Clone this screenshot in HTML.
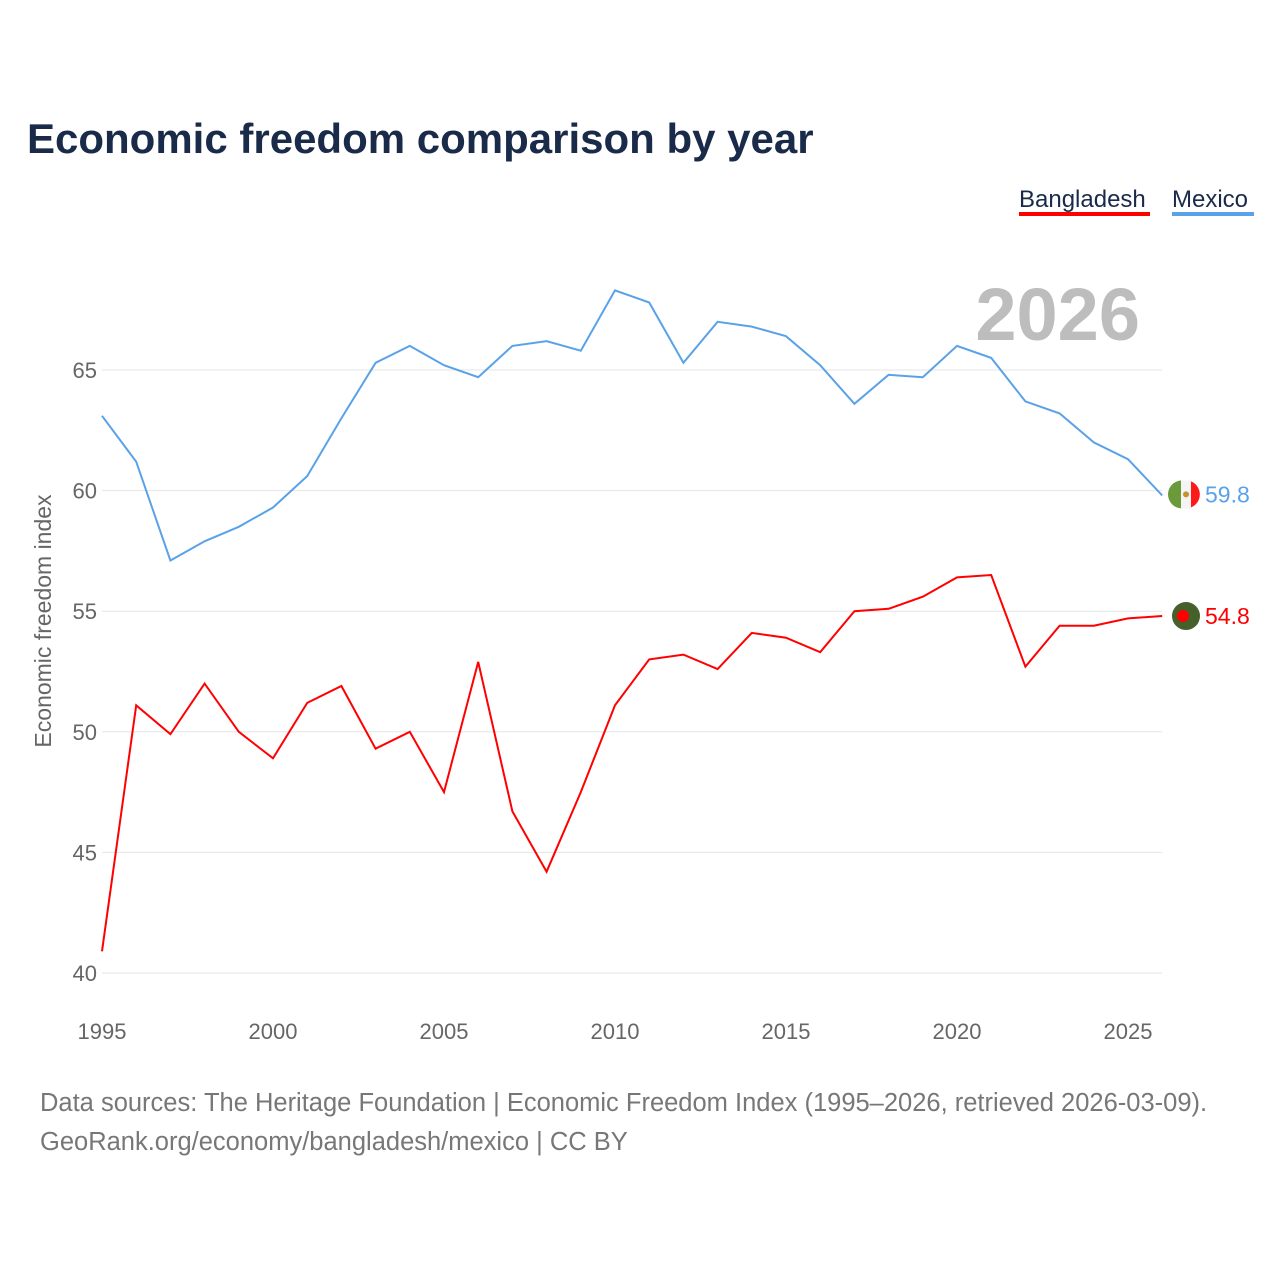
<!DOCTYPE html>
<html><head><meta charset="utf-8">
<style>
body{margin:0;background:#fff;}
svg{display:block;font-family:"Liberation Sans",sans-serif;}
</style></head>
<body>
<svg id="chart" width="1280" height="1280" viewBox="0 0 1280 1280">
<rect width="1280" height="1280" fill="#fff"/>
<text x="27" y="153" font-size="42" font-weight="bold" fill="#1a2b4a">Economic freedom comparison by year</text>
<g>
<g>
<text x="1019" y="207" font-size="24" fill="#1a2b4a">Bangladesh</text>
<rect x="1019" y="212" width="131" height="4" fill="#ff0000"/>
</g>
<g>
<text x="1172" y="207" font-size="24" fill="#1a2b4a">Mexico</text>
<rect x="1172" y="212" width="82" height="4" fill="#5aa2e8"/>
</g>
</g>
<text x="1140" y="340" font-size="74" font-weight="bold" fill="#bdbdbd" text-anchor="end">2026</text>
<g id="grid"></g>
<g id="yticks"></g>
<g id="xticks"></g>
<text transform="translate(51,621) rotate(-90)" font-size="23" fill="#666" text-anchor="middle">Economic freedom index</text>
<g id="lines"></g>
<g>
<text x="40" y="1111" font-size="25.5" fill="#777">Data sources: The Heritage Foundation | Economic Freedom Index (1995–2026, retrieved 2026-03-09).</text>
<text x="40" y="1150" font-size="25.5" fill="#777">GeoRank.org/economy/bangladesh/mexico | CC BY</text>
</g>
</svg>
<script>
const years = [1995,1996,1997,1998,1999,2000,2001,2002,2003,2004,2005,2006,2007,2008,2009,2010,2011,2012,2013,2014,2015,2016,2017,2018,2019,2020,2021,2022,2023,2024,2025,2026];
const mexico = [63.1,61.2,57.1,57.9,58.5,59.3,60.6,63.0,65.3,66.0,65.2,64.7,66.0,66.2,65.8,68.3,67.8,65.3,67.0,66.8,66.4,65.2,63.6,64.8,64.7,66.0,65.5,63.7,63.2,62.0,61.3,59.8];
const bangladesh = [40.9,51.1,49.9,52.0,50.0,48.9,51.2,51.9,49.3,50.0,47.5,52.9,46.7,44.2,47.5,51.1,53.0,53.2,52.6,54.1,53.9,53.3,55.0,55.1,55.6,56.4,56.5,52.7,54.4,54.4,54.7,54.8];
const yTicks = [40,45,50,55,60,65];
const xTicks = [1995,2000,2005,2010,2015,2020,2025];

const NS="http://www.w3.org/2000/svg";
const x = v => 102 + (v-1995)*(1128-102)/30;
const y = v => 973 - (v-40)*(973-370)/25;
function mk(tag, attrs, parent){const e=document.createElementNS(NS,tag);for(const k in attrs)e.setAttribute(k,attrs[k]);parent.appendChild(e);return e;}
const grid=document.getElementById('grid'), yt=document.getElementById('yticks'), xt=document.getElementById('xticks'), lines=document.getElementById('lines');
yTicks.forEach(t=>{
  const l=mk('line',{x1:102,x2:1162,y1:y(t),y2:y(t),stroke:'#e6e6e6','stroke-width':1},grid);
  
  
  const tx=mk('text',{x:97,y:y(t)+8,'font-size':22,fill:'#666','text-anchor':'end'},yt);
  tx.textContent=t;
  
  
});
xTicks.forEach(t=>{
  const tx=mk('text',{x:x(t),y:1039,'font-size':22,fill:'#666','text-anchor':'middle'},xt);
  tx.textContent=t;
  
  
});
function series(vals,color,name){
  const d=vals.map((v,i)=>(i?'L':'M')+x(years[i]).toFixed(1)+','+y(v).toFixed(1)).join(' ');
  const p=mk('path',{d:d,fill:'none',stroke:color,'stroke-width':2},lines);
  
  
  const lv=vals[vals.length-1], cy=y(lv)-(name==='mexico'?1:0);
  const g=mk('g',{},lines);
  
  
  if(name==='mexico'){
    mk('circle',{cx:1186,cy:cy,r:14,fill:'#f4f4f4'},g);
    mk('path',{d:`M1182,${cy-14} A14,14 0 0 0 1182,${cy+14}Z`,fill:'#6a9a3a'},g);
    mk('rect',{x:1181,y:cy-14,width:10,height:28,fill:'#f4f4f4'},g);
    mk('path',{d:`M1191,${cy-13} A14,14 0 0 1 1191,${cy+13}Z`,fill:'#ff1a1a'},g);
    mk('circle',{cx:1186,cy:cy,r:3,fill:'#c8922a'},g);
  } else {
    mk('circle',{cx:1186,cy:cy,r:14,fill:'#45602a'},g);
    mk('circle',{cx:1183,cy:cy,r:6,fill:'#ff0000'},g);
  }
  const t=mk('text',{x:1205,y:cy+8,'font-size':23,fill:color},lines);
  t.textContent=lv.toFixed(1);
  
  
}
series(mexico,'#5aa2e8','mexico');
series(bangladesh,'#ff0000','bangladesh');
</script>
</body></html>
